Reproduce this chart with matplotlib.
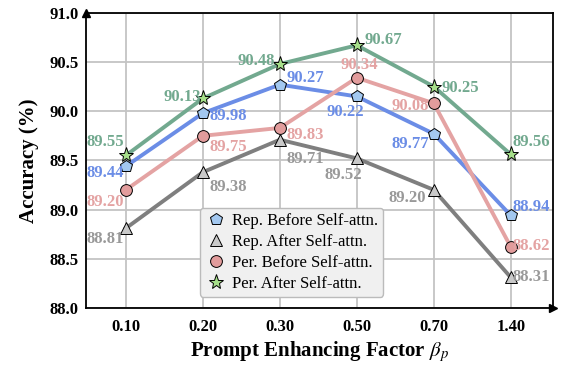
import numpy as np
import matplotlib
matplotlib.use("Agg")
from matplotlib import pyplot as plt

plt.rcParams['font.family'] = ['Liberation Serif', 'DejaVu Serif']
plt.rcParams['mathtext.fontset'] = 'stix'

factors = ['0.10', '0.20', '0.30', '0.50', '0.70', '1.40']

rep_before = [89.44, 89.98, 90.27, 90.15, 89.77, 88.94]
rep_before_lbl = ['89.44', '89.98', '90.27', '90.22', '89.77', '88.94']
rep_after = [88.81, 89.38, 89.71, 89.52, 89.20, 88.31]
per_before = [89.20, 89.75, 89.83, 90.34, 90.08, 88.62]
per_after = [89.55, 90.13, 90.48, 90.67, 90.25, 89.56]

# label offsets in points (dx, dy) per point
off_rep_before = [(-15, -5), (18, -2), (18, 5), (-8, -11), (-17, -7), (15, 6)]
off_rep_after = [(-15, -8), (18, -11), (18, -14), (-10, -12), (-19, -6), (15, 0)]
off_per_before = [(-15, -9), (18, -8), (18, -5), (2, 9), (-17, -2), (15, 1)]
off_per_after = [(-15, 10), (-15, 1), (-17, 2), (19, 4), (19, -1), (15, 9)]

x = np.arange(len(factors))

fig = plt.figure(figsize=(5.61, 3.67), dpi=100)
ax = fig.add_axes([0.153, 0.161, 0.833, 0.804])

series = [
	(rep_before, rep_before_lbl, off_rep_before, '#6b8de6', '#a3c8f0', 'p', 9, '#6b8de6', 'Rep. Before Self-attn.'),
	(rep_after, None, off_rep_after, '#7f7f7f', '#c9c9c9', '^', 8, '#999999', 'Rep. After Self-attn.'),
	(per_before, None, off_per_before, '#e4a3a3', '#e29c9c', 'o', 8.5, '#e4a3a3', 'Per. Before Self-attn.'),
	(per_after, None, off_per_after, '#72a98f', '#a6df8a', '*', 11, '#72a98f', 'Per. After Self-attn.'),
]

handles = []
for vals, lbls, offs, lc, fc, mk, ms, tc, name in series:
	ax.plot(x, vals, color=lc, linewidth=2.8, zorder=3)
	h, = ax.plot(x, vals, linestyle='none', marker=mk, markersize=ms, markerfacecolor=fc,
				 markeredgecolor='black', markeredgewidth=0.7, zorder=4, label=name)
	handles.append(h)
	if lbls is None:
		lbls = ['%.2f' % v for v in vals]
	for xi, v, t, (dx, dy) in zip(x, vals, lbls, offs):
		ax.annotate(t, (xi, v), xytext=(dx, dy), textcoords='offset points',
					ha='center', va='center', fontsize=12, fontweight='bold', color=tc, zorder=5)

ax.set_xlim(-0.52, 5.55)
ax.set_ylim(88.0, 91.0)
ax.set_xticks(x)
ax.set_xticklabels(factors)
ax.set_yticks([88.0, 88.5, 89.0, 89.5, 90.0, 90.5, 91.0])
ax.set_yticklabels(['88.0', '88.5', '89.0', '89.5', '90.0', '90.5', '91.0'])
ax.tick_params(axis='x', length=0, labelsize=12, pad=8)
ax.tick_params(axis='y', length=0, labelsize=12, pad=5)
for lab in ax.get_xticklabels() + ax.get_yticklabels():
	lab.set_fontweight('bold')
ax.grid(True, color='#c4c4c4', linewidth=1.3, zorder=0)
ax.set_axisbelow(True)
for sp in ax.spines.values():
	sp.set_linewidth(1.3)
	sp.set_color('black')

# axis arrows
ax.plot([0], [1.0], marker='^', color='black', markersize=6, transform=ax.transAxes, clip_on=False)
ax.plot([1.0], [0], marker='>', color='black', markersize=6, transform=ax.transAxes, clip_on=False)

ax.set_xlabel(r'Prompt Enhancing Factor $\beta_p$', fontsize=15, fontweight='bold', labelpad=3)
ax.set_ylabel('Accuracy (%)', fontsize=15, fontweight='bold', labelpad=8)

leg = ax.legend(handles=handles, loc='lower center', bbox_to_anchor=(0.44, 0.01), fontsize=12,
				frameon=True, fancybox=True, handletextpad=0.3, borderpad=0.3, labelspacing=0.3,
				handlelength=1.3, markerscale=1.0)
leg.get_frame().set_facecolor('#f0f0f0')
leg.get_frame().set_edgecolor('#bbbbbb')
leg.get_frame().set_alpha(1.0)

plt.savefig('out.png', dpi=100)
plt.close()
